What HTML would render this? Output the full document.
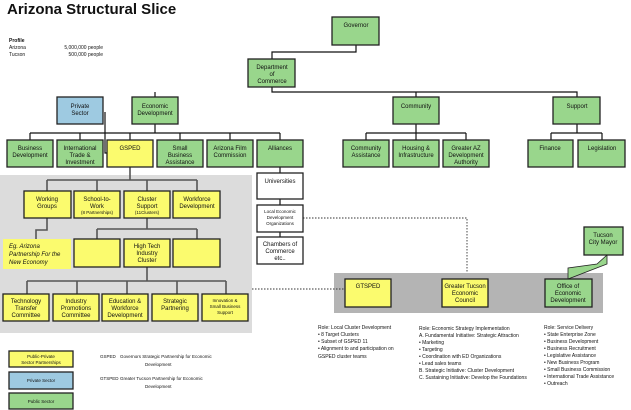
<!DOCTYPE html>
<html><head><meta charset="utf-8"><style>
html,body{margin:0;padding:0;background:#fff;}
svg{display:block;font-family:"Liberation Sans",sans-serif;}
.g{fill:#99d68c;stroke:#222;stroke-width:1.3}
.y{fill:#fbfb6e;stroke:#222;stroke-width:1.3}
.b{fill:#9ecae1;stroke:#222;stroke-width:1.3}
.w{fill:#fff;stroke:#222;stroke-width:1.3}
.l{stroke:#111;stroke-width:1.2;fill:none}
.lg{stroke:#555;stroke-width:1.6;fill:none}
text{font-size:6px;fill:#111;text-anchor:middle}
.s{font-size:5px;text-anchor:start}
</style></head><body>
<svg width="631" height="410" viewBox="0 0 631 410">
<text x="7" y="14" style="font-size:15px;font-weight:bold;text-anchor:start">Arizona Structural Slice</text>
<text class="s" x="9" y="42" style="font-weight:bold">Profile</text>
<text class="s" x="9" y="49">Arizona</text><text class="s" x="9" y="56">Tucson</text>
<text class="s" x="103" y="49" style="text-anchor:end">5,000,000 people</text>
<text class="s" x="103" y="56" style="text-anchor:end">500,000 people</text>

<rect x="0" y="175" width="252" height="158" fill="#dcdcdc"/>
<rect x="334" y="273" width="269" height="40" fill="#b4b4b4"/>

<path class="l" d="M356 45V52H272V59M272 87V92H577V97M155 92V97M416 92V97M155 124V133M30 133H280M30 133V140M80 133V140M130 133V140M180 133V140M230 133V140M280 133V140M105 112V153H107"/>
<path class="l" d="M416 124V133M366 133H466M366 133V140M416 133V140M466 133V140M577 124V133M551 133H602M551 133V140M602 133V140"/>
<path class="l" d="M280 167V173M280 199V205M280 232V237"/>
<path class="lg" d="M130 167V180M47 180H197M47 180V191M97 180V191M147 180V191M197 180V191M47 218V230H36V239M147 218V229M97 229H197M97 229V239M197 229V239M147 267V281M27 281H226M27 281V294M77 281V294M127 281V294M177 281V294M226 281V294"/>
<path d="M303 218H467V272M252 289H345" stroke="#333" stroke-width="0.9" stroke-dasharray="1.5,1.5" fill="none"/>
<polygon points="568,279 568,268 597,264 607,255 607,264" class="g" style="stroke-width:0.8"/>

<rect class="g" x="332" y="17" width="47" height="28"/><text x="356" y="27">Governor</text>
<rect class="g" x="248" y="59" width="47" height="28"/><text x="272" y="69">Department</text><text x="272" y="76">of</text><text x="272" y="83">Commerce</text>
<rect class="b" x="57" y="97" width="46" height="27"/><text x="80" y="108">Private</text><text x="80" y="115">Sector</text>
<rect class="g" x="132" y="97" width="46" height="27"/><text x="155" y="108">Economic</text><text x="155" y="115">Development</text>
<rect class="g" x="393" y="97" width="46" height="27"/><text x="416" y="108">Community</text>
<rect class="g" x="553" y="97" width="47" height="27"/><text x="577" y="108">Support</text>

<rect class="g" x="7" y="140" width="46" height="27"/><text x="30" y="150">Business</text><text x="30" y="157">Development</text>
<rect class="g" x="57" y="140" width="46" height="27"/><text x="80" y="150">International</text><text x="80" y="157">Trade &amp;</text><text x="80" y="164">Investment</text>
<rect class="y" x="107" y="140" width="46" height="27"/><text x="130" y="150">GSPED</text>
<rect class="g" x="157" y="140" width="46" height="27"/><text x="180" y="150">Small</text><text x="180" y="157">Business</text><text x="180" y="164">Assistance</text>
<rect class="g" x="207" y="140" width="46" height="27"/><text x="230" y="150">Arizona Film</text><text x="230" y="157">Commission</text>
<rect class="g" x="257" y="140" width="46" height="27"/><text x="280" y="150">Alliances</text>
<rect class="g" x="343" y="140" width="46" height="27"/><text x="366" y="150">Community</text><text x="366" y="157">Assistance</text>
<rect class="g" x="393" y="140" width="46" height="27"/><text x="416" y="150">Housing &amp;</text><text x="416" y="157">Infrastructure</text>
<rect class="g" x="443" y="140" width="46" height="27"/><text x="466" y="150">Greater AZ</text><text x="466" y="157">Development</text><text x="466" y="164">Authority</text>
<rect class="g" x="528" y="140" width="45" height="27"/><text x="550" y="150">Finance</text>
<rect class="g" x="578" y="140" width="47" height="27"/><text x="602" y="150">Legislation</text>

<rect class="w" x="257" y="173" width="46" height="26"/><text x="280" y="183">Universities</text>
<rect class="w" x="257" y="205" width="46" height="27"/><text x="280" y="213" style="font-size:4.5px">Local Economic</text><text x="280" y="219" style="font-size:4.5px">Development</text><text x="280" y="225" style="font-size:4.5px">Organizations</text>
<rect class="w" x="257" y="237" width="46" height="27"/><text x="280" y="246">Chambers of</text><text x="280" y="253">Commerce</text><text x="280" y="260">etc..</text>

<rect class="y" x="24" y="191" width="47" height="27"/><text x="47" y="201">Working</text><text x="47" y="208">Groups</text>
<rect class="y" x="74" y="191" width="46" height="27"/><text x="97" y="201">School-to-</text><text x="97" y="208">Work</text><text x="97" y="214" style="font-size:4.5px">(8 Partnerships)</text>
<rect class="y" x="124" y="191" width="46" height="27"/><text x="147" y="201">Cluster</text><text x="147" y="208">Support</text><text x="147" y="214" style="font-size:4.5px">(11Clusters)</text>
<rect class="y" x="173" y="191" width="47" height="27"/><text x="197" y="201">Workforce</text><text x="197" y="208">Development</text>
<rect x="3" y="239" width="68" height="30" fill="#fbfb6e"/>
<text class="s" x="9" y="248" style="font-size:6px;font-style:italic">Eg. Arizona</text>
<text class="s" x="9" y="256" style="font-size:6px;font-style:italic">Partnership For the</text>
<text class="s" x="9" y="264" style="font-size:6px;font-style:italic">New Economy</text>
<rect class="y" x="74" y="239" width="46" height="28"/>
<rect class="y" x="124" y="239" width="46" height="28"/><text x="147" y="248">High Tech</text><text x="147" y="255">Industry</text><text x="147" y="262">Cluster</text>
<rect class="y" x="173" y="239" width="47" height="28"/>

<rect class="y" x="3" y="294" width="46" height="27"/><text x="26" y="303">Technology</text><text x="26" y="310">Transfer</text><text x="26" y="317">Committee</text>
<rect class="y" x="53" y="294" width="46" height="27"/><text x="76" y="303">Industry</text><text x="76" y="310">Promotions</text><text x="76" y="317">Committee</text>
<rect class="y" x="102" y="294" width="46" height="27"/><text x="125" y="303">Education &amp;</text><text x="125" y="310">Workforce</text><text x="125" y="317">Development</text>
<rect class="y" x="152" y="294" width="46" height="27"/><text x="175" y="303">Strategic</text><text x="175" y="310">Partnering</text>
<rect class="y" x="202" y="294" width="46" height="27"/><text x="225" y="302" style="font-size:4.5px">Innovation &amp;</text><text x="225" y="308" style="font-size:4.5px">Small Business</text><text x="225" y="314" style="font-size:4.5px">Support</text>

<rect class="y" x="345" y="279" width="46" height="28"/><text x="368" y="288">GTSPED</text>
<rect class="y" x="442" y="279" width="46" height="28"/><text x="465" y="288">Greater Tucson</text><text x="465" y="295">Economic</text><text x="465" y="302">Council</text>
<rect class="g" x="545" y="279" width="47" height="28"/><text x="568" y="288">Office of</text><text x="568" y="295">Economic</text><text x="568" y="302">Development</text>
<rect class="g" x="584" y="227" width="39" height="28"/><text x="603" y="237">Tucson</text><text x="603" y="244">City Mayor</text>

<text class="s" x="318" y="329">Role:  Local Cluster Development</text>
<text class="s" x="318" y="336">• 8 Target Clusters</text>
<text class="s" x="318" y="343">• Subset of  GSPED 11</text>
<text class="s" x="318" y="350">• Alignment to and participation on</text>
<text class="s" x="318" y="358">GSPED cluster teams</text>
<text class="s" x="419" y="330">Role:  Economic Strategy Implementation</text>
<text class="s" x="419" y="337">A.      Fundamental Initiative:  Strategic Attraction</text>
<text class="s" x="419" y="344">• Marketing</text>
<text class="s" x="419" y="351">• Targeting</text>
<text class="s" x="419" y="358">• Coordination with ED Organizations</text>
<text class="s" x="419" y="365">• Lead sales teams</text>
<text class="s" x="419" y="372">B.      Strategic Initiative:  Cluster Development</text>
<text class="s" x="419" y="379">C.      Sustaining Initiative:  Develop the Foundations</text>
<text class="s" x="544" y="329">Role:  Service Delivery</text>
<text class="s" x="544" y="336">• State Enterprise Zone</text>
<text class="s" x="544" y="343">• Business Development</text>
<text class="s" x="544" y="350">• Business Recruitment</text>
<text class="s" x="544" y="357">• Legislative Assistance</text>
<text class="s" x="544" y="364">• New Business Program</text>
<text class="s" x="544" y="371">• Small Business Commission</text>
<text class="s" x="544" y="378">• International Trade Assistance</text>
<text class="s" x="544" y="385">• Outreach</text>

<rect class="y" x="9" y="351" width="64" height="16"/><text x="41" y="358" style="font-size:4.5px">Public-Private</text><text x="41" y="364" style="font-size:4.5px">Sector Partnerships</text>
<rect class="b" x="9" y="372" width="64" height="17"/><text x="41" y="382" style="font-size:4.5px">Private Sector</text>
<rect class="g" x="9" y="393" width="64" height="16"/><text x="41" y="403" style="font-size:4.5px">Public Sector</text>
<text class="s" x="100" y="358" style="font-size:4.5px">GSPED</text><text class="s" x="120" y="358" style="font-size:4.5px">Governors Strategic Partnership for Economic</text><text class="s" x="145" y="366" style="font-size:4.5px">Development</text>
<text class="s" x="100" y="380" style="font-size:4.5px">GTSPED</text><text class="s" x="120" y="380" style="font-size:4.5px">Greater Tucson Partnership for Economic</text><text class="s" x="145" y="388" style="font-size:4.5px">Development</text>
</svg>
</body></html>
